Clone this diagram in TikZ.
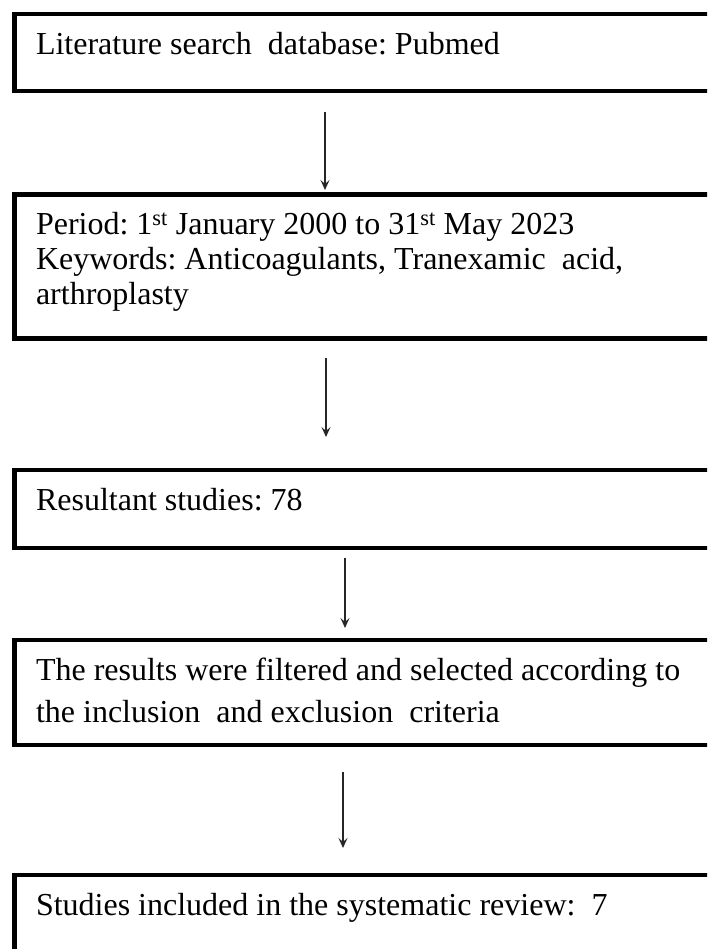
\documentclass[tikz,border=0pt]{standalone}
\usepackage{fontspec}
\setmainfont{Liberation Serif}
\frenchspacing
\usetikzlibrary{arrows.meta, positioning}

\tikzset{
  stagebox/.style={draw=black, line width=4.5pt, rectangle, anchor=north west,
    minimum width=760pt, inner sep=0pt, outer sep=0pt},
  stagetext/.style={inner sep=0pt, outer sep=0pt, font=\fontsize{32}{35}\selectfont},
  flow/.style={-{Stealth[length=10pt, width=9pt, inset=4pt]}, line width=1.4pt, black!85},
}

\begin{document}
\begin{tikzpicture}[x=1pt, y=1pt]
  \useasboundingbox (0,0) rectangle (707,-949);
  \clip (0,0) rectangle (707,-949);

  % 检索数据库
  \node[stagebox, minimum height=77pt] (b1) at (14.5,-14) {};
  \node[stagetext, below right=41pt and 21.5pt of b1.north west, anchor=base west] (t1)
    {Literature search\ \ database: Pubmed};

  % 时间与关键词
  \node[stagebox, minimum height=144pt] (b2) at (14.5,-194.5) {};
  \node[stagetext, below right=40.5pt and 21.5pt of b2.north west, anchor=base west] (t2)
    {\parbox[t]{660pt}{Period: 1\textsuperscript{st} January 2000 to 31\textsuperscript{st} May 2023\\
     Keywords: Anticoagulants, Tranexamic\ \ acid,\\
     arthroplasty}};

  % 检索结果
  \node[stagebox, minimum height=78pt] (b3) at (14.5,-470) {};
  \node[stagetext, below right=40pt and 21.5pt of b3.north west, anchor=base west] (t3)
    {Resultant studies: 78};

  % 筛选
  \node[stagebox, minimum height=105pt] (b4) at (14.5,-640) {};
  \node[stagetext, below right=40pt and 21.5pt of b4.north west, anchor=base west,
    font=\fontsize{32}{42}\selectfont] (t4)
    {\parbox[t]{680pt}{The results were filtered and selected according to\\
     the inclusion\ \ and exclusion\ \ criteria}};

  % 纳入研究
  \node[stagebox, minimum height=105pt] (b5) at (14.5,-875) {};
  \node[stagetext, below right=40pt and 21.5pt of b5.north west, anchor=base west] (t5)
    {Studies included in the systematic review:\ \ 7};

  % 箭头
  \coordinate (x1) at (325,0);
  \coordinate (x2) at (326,0);
  \coordinate (x3) at (345,0);
  \coordinate (x4) at (343,0);
  \draw[flow, shorten <=21pt, shorten >=4.5pt] (b1.south -| x1) -- (b2.north -| x1);
  \draw[flow, shorten <=19.5pt, shorten >=33pt] (b2.south -| x2) -- (b3.north -| x2);
  \draw[flow, shorten <=10pt, shorten >=12pt] (b3.south -| x3) -- (b4.north -| x3);
  \draw[flow, shorten <=27pt, shorten >=27pt] (b4.south -| x4) -- (b5.north -| x4);
\end{tikzpicture}
\end{document}
